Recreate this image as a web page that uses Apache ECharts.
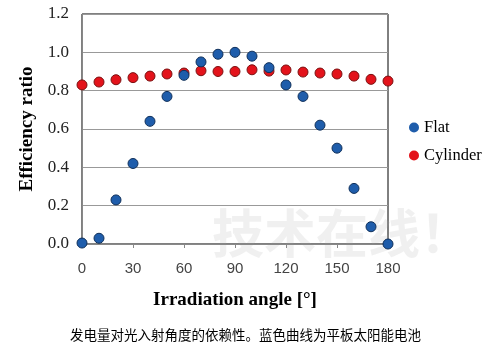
<!DOCTYPE html>
<html lang="en">
<head>
<meta charset="UTF-8">
<title>Efficiency ratio</title>
<script src="https://cdn.jsdelivr.net/npm/echarts@6/dist/echarts.min.js"></script>
</head>
<body style="margin:0;background:#fff">
<div id="chart" style="width:491px;height:353px"></div>
<script>
// irradiation angle in degrees
var angles = [0, 10, 20, 30, 40, 50, 60, 70, 80, 90, 100, 110, 120, 130, 140, 150, 160, 170, 180];
var flat = [0.005, 0.03, 0.23, 0.42, 0.64, 0.77, 0.88, 0.95, 0.99, 1.0, 0.98, 0.92, 0.83, 0.77, 0.62, 0.50, 0.29, 0.09, 0.0];
var cylinder = [0.83, 0.845, 0.857, 0.868, 0.876, 0.887, 0.892, 0.904, 0.90, 0.90, 0.909, 0.902, 0.908, 0.897, 0.892, 0.887, 0.876, 0.859, 0.85];

function pairs(vals) {
    return angles.map(function (a, i) { return [a, vals[i]]; });
}

var chart = echarts.init(document.getElementById('chart'));

chart.setOption({
    animation: false,
    grid: {
        left: 82, right: 103, top: 14, bottom: 109,
        show: true, borderColor: '#000', borderWidth: 1
    },
    legend: {
        orient: 'vertical',
        left: 404, top: 114,
        itemGap: 11,
        itemWidth: 10, itemHeight: 10,
        itemStyle: { borderWidth: 0 },
        textStyle: { fontFamily: 'Liberation Serif', fontSize: 16.5, color: '#000' },
        data: ['Flat', 'Cylinder']
    },
    xAxis: {
        type: 'value',
        min: 0, max: 180, interval: 30,
        name: 'Irradiation angle [°]',
        nameLocation: 'middle',
        nameGap: 47,
        nameTextStyle: { fontFamily: 'Liberation Serif', fontWeight: 'bold', fontSize: 19, color: '#000' },
        axisLine: { lineStyle: { color: '#888' } },
        axisTick: { show: true, length: 4, lineStyle: { color: '#888' } },
        axisLabel: { fontFamily: 'Liberation Sans', fontSize: 15, color: '#444', margin: 17 },
        splitLine: { show: false }
    },
    yAxis: {
        type: 'value',
        min: 0, max: 1.2, interval: 0.2,
        name: 'Efficiency ratio',
        nameLocation: 'middle',
        nameGap: 45,
        nameTextStyle: { fontFamily: 'Liberation Serif', fontWeight: 'bold', fontSize: 19, color: '#000' },
        axisLine: { show: true, lineStyle: { color: '#888' } },
        axisTick: { show: false },
        axisLabel: {
            fontFamily: 'Liberation Serif', fontSize: 17, color: '#222', margin: 13,
            formatter: function (v) { return v.toFixed(1); }
        },
        splitLine: { lineStyle: { color: '#999' } }
    },
    series: [
        {
            name: 'Cylinder', type: 'scatter', symbolSize: 10, z: 2,
            itemStyle: { color: '#e3131b', borderColor: '#7a1010', borderWidth: 1, opacity: 1 },
            data: pairs(cylinder)
        },
        {
            name: 'Flat', type: 'scatter', symbolSize: 10, z: 3,
            itemStyle: { color: '#1f5dab', borderColor: '#10305a', borderWidth: 1, opacity: 1 },
            data: pairs(flat)
        }
    ],
    graphic: [
        {
            type: 'text', left: 212, top: 207, z: 0, silent: true,
            style: {
                text: '技术在线！', fontFamily: 'Noto Sans CJK SC', fontSize: 52, fontWeight: 'bold',
                fill: 'rgba(160,160,160,0.16)'
            }
        },
        {
            type: 'text', left: 'center', top: 328,
            style: {
                text: '发电量对光入射角度的依赖性。蓝色曲线为平板太阳能电池',
                fontFamily: 'Noto Sans CJK SC', fontSize: 13.5, fill: '#000'
            }
        }
    ]
});
</script>
</body>
</html>
